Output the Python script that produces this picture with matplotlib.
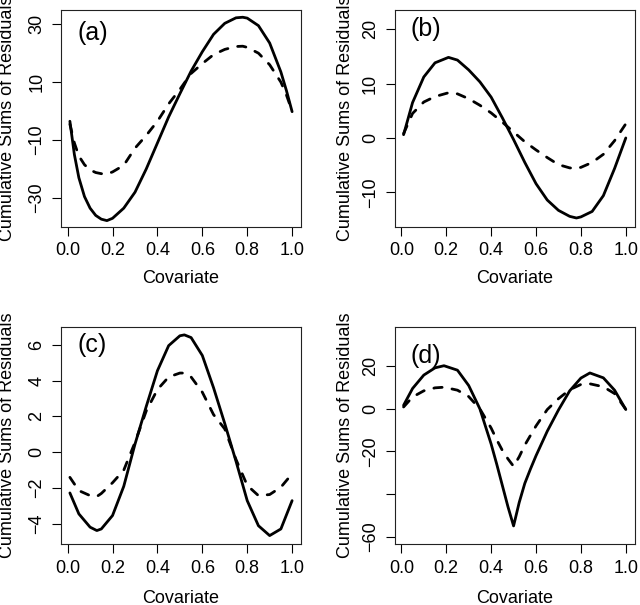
import matplotlib
matplotlib.use("Agg")
import matplotlib.pyplot as plt

plt.rcParams['font.family'] = ['Liberation Sans', 'DejaVu Sans']

# panel (a)
xa = [0.01, 0.03, 0.05, 0.075, 0.10, 0.125, 0.15, 0.175, 0.20, 0.25, 0.30, 0.35, 0.40, 0.45, 0.50,
      0.55, 0.60, 0.65, 0.70, 0.75, 0.78, 0.80, 0.85, 0.90, 0.95, 0.975, 1.00]
solid_a = [-3.5, -15, -23, -29.5, -33.5, -36, -37.3, -37.8, -37, -33.5, -28, -20, -11, -2, 6,
           13.8, 20.5, 26.5, 30.3, 32.2, 32.4, 32.1, 29.5, 23.5, 13.5, 7, -0.2]
dash_a = [-4.5, -11, -15.5, -18.5, -20.3, -21.2, -21.6, -21.7, -21, -18.7, -12.8, -8.4, -3.5, 2.5, 7.5,
          13, 16.4, 19.5, 21.3, 22.3, 22.4, 22, 20, 16, 10, 5.5, 0]

# panel (b)
xb = [0.01, 0.05, 0.10, 0.15, 0.21, 0.25, 0.30, 0.35, 0.40, 0.45, 0.50,
      0.55, 0.60, 0.65, 0.70, 0.75, 0.78, 0.80, 0.85, 0.90, 0.95, 1.00]
solid_b = [0.6, 6.5, 11.2, 13.8, 14.8, 14.3, 12.5, 10.3, 7.5, 3.7, -0.3,
           -4.5, -8.4, -11.4, -13.3, -14.4, -14.7, -14.5, -13.5, -10.6, -5.6, 0]
dash_b = [0.8, 4.5, 6.6, 7.6, 8.3, 8.1, 7.2, 6.0, 4.6, 2.9, 1.1,
          -0.7, -2.2, -3.6, -4.9, -5.5, -5.6, -5.4, -4.5, -3.0, -0.5, 2.6]

# panel (c)
xc = [0.01, 0.05, 0.10, 0.13, 0.15, 0.20, 0.25, 0.30, 0.35, 0.40, 0.45, 0.50,
      0.52, 0.55, 0.60, 0.65, 0.70, 0.75, 0.80, 0.85, 0.90, 0.95, 1.00]
solid_c = [-2.27, -3.44, -4.18, -4.37, -4.28, -3.53, -1.9, 0.45, 2.55, 4.55, 5.95, 6.5,
           6.55, 6.4, 5.4, 3.6, 1.6, -0.5, -2.7, -4.1, -4.65, -4.28, -2.7]
dash_c = [-1.4, -2.14, -2.42, -2.47, -2.3, -1.7, -1.0, 0.55, 2.3, 3.5, 4.2, 4.42,
          4.42, 4.2, 3.35, 2.1, 1.3, -0.4, -1.85, -2.42, -2.36, -1.95, -1.2]

# panel (d)
xd = [0.01, 0.05, 0.10, 0.15, 0.19, 0.25, 0.30, 0.35, 0.40, 0.425, 0.45, 0.475, 0.50,
      0.525, 0.55, 0.575, 0.60, 0.65, 0.70, 0.75, 0.80, 0.84, 0.90, 0.95, 1.00]
solid_d = [1.7, 9.6, 15.9, 19.3, 20.3, 18.2, 11, 0, -16.5, -26, -36, -46, -55,
           -44, -35, -28.3, -22, -10.5, -0.5, 8.5, 14.5, 16.9, 14.6, 8.8, -0.3]
dash_d = [0.9, 5.6, 8.5, 9.9, 10.2, 8.8, 5.8, 0, -9, -14.5, -19.5, -23.5, -27,
          -22.5, -17, -12.5, -8, -0.3, 4.8, 9, 11.5, 11.8, 10.4, 7.2, -0.2]

xticks = [0.0, 0.2, 0.4, 0.6, 0.8, 1.0]
xticklabels = ['0.0', '0.2', '0.4', '0.6', '0.8', '1.0']

panels = [
    ('(a)', xa, solid_a, dash_a, (-39.9, 34.9), [-30, -10, 10, 30], ['\u221230', '\u221210', '10', '30']),
    ('(b)', xb, solid_b, dash_b, (-16.3, 23.5), [-10, 0, 10, 20], ['\u221210', '0', '10', '20']),
    ('(c)', xc, solid_c, dash_c, (-5.12, 6.99), [-4, -2, 0, 2, 4, 6], ['\u22124', '\u22122', '0', '2', '4', '6']),
    ('(d)', xd, solid_d, dash_d, (-63.5, 38.5), [-60, -40, -20, 0, 20], ['\u221260', '', '\u221220', '0', '20']),
]

# axes boxes in pixels (left, top, right, bottom)
boxes = [(61, 10, 301, 226.7), (394.7, 10, 634.7, 226.7),
         (61, 327, 301, 544), (394.7, 327, 634.7, 544)]
label_pos = [(0.07, 0.895), (0.067, 0.912), (0.07, 0.917), (0.067, 0.866)]
ylab_x = [-0.221, -0.207, -0.223, -0.207]
xlab_y = [-0.20, -0.20, -0.212, -0.212]

W, H = 640, 605
fig = plt.figure(figsize=(6.4, 6.05), dpi=100)

for i, (tag, x, ys, yd, ylim, yt, ytl) in enumerate(panels):
    l, t, r, b = boxes[i]
    ax = fig.add_axes([l / W, 1 - b / H, (r - l) / W, (b - t) / H])
    ax.plot(x, ys, color='black', lw=2.0, solid_capstyle='round', solid_joinstyle='round')
    ax.plot(x, yd, color='black', lw=2.0, linestyle=(0, (3, 3.6)),
            dash_capstyle='round', dash_joinstyle='round')
    ax.set_xlim(-0.0296, 1.0396)
    ax.set_ylim(*ylim)
    ax.set_xticks(xticks)
    ax.set_xticklabels(xticklabels)
    ax.set_yticks(yt)
    ax.set_yticklabels(ytl, rotation=90, va='center')
    ax.tick_params(axis='both', direction='out', length=6.3, width=0.8,
                   labelsize=13, color='black')
    ax.tick_params(axis='y', pad=5)
    ax.tick_params(axis='x', pad=5)
    for sp in ax.spines.values():
        sp.set_linewidth(0.8)
        sp.set_color('#222222')
    ax.text(label_pos[i][0], label_pos[i][1], tag, transform=ax.transAxes,
            fontsize=18, ha='left', va='center')
    ax.set_xlabel('Covariate', fontsize=13, va='top')
    ax.xaxis.set_label_coords(0.5, xlab_y[i])
    ax.set_ylabel('Cumulative Sums of Residuals', fontsize=13, va='center')
    ax.yaxis.set_label_coords(ylab_x[i], 0.5)

fig.savefig('out.png', dpi=100)
